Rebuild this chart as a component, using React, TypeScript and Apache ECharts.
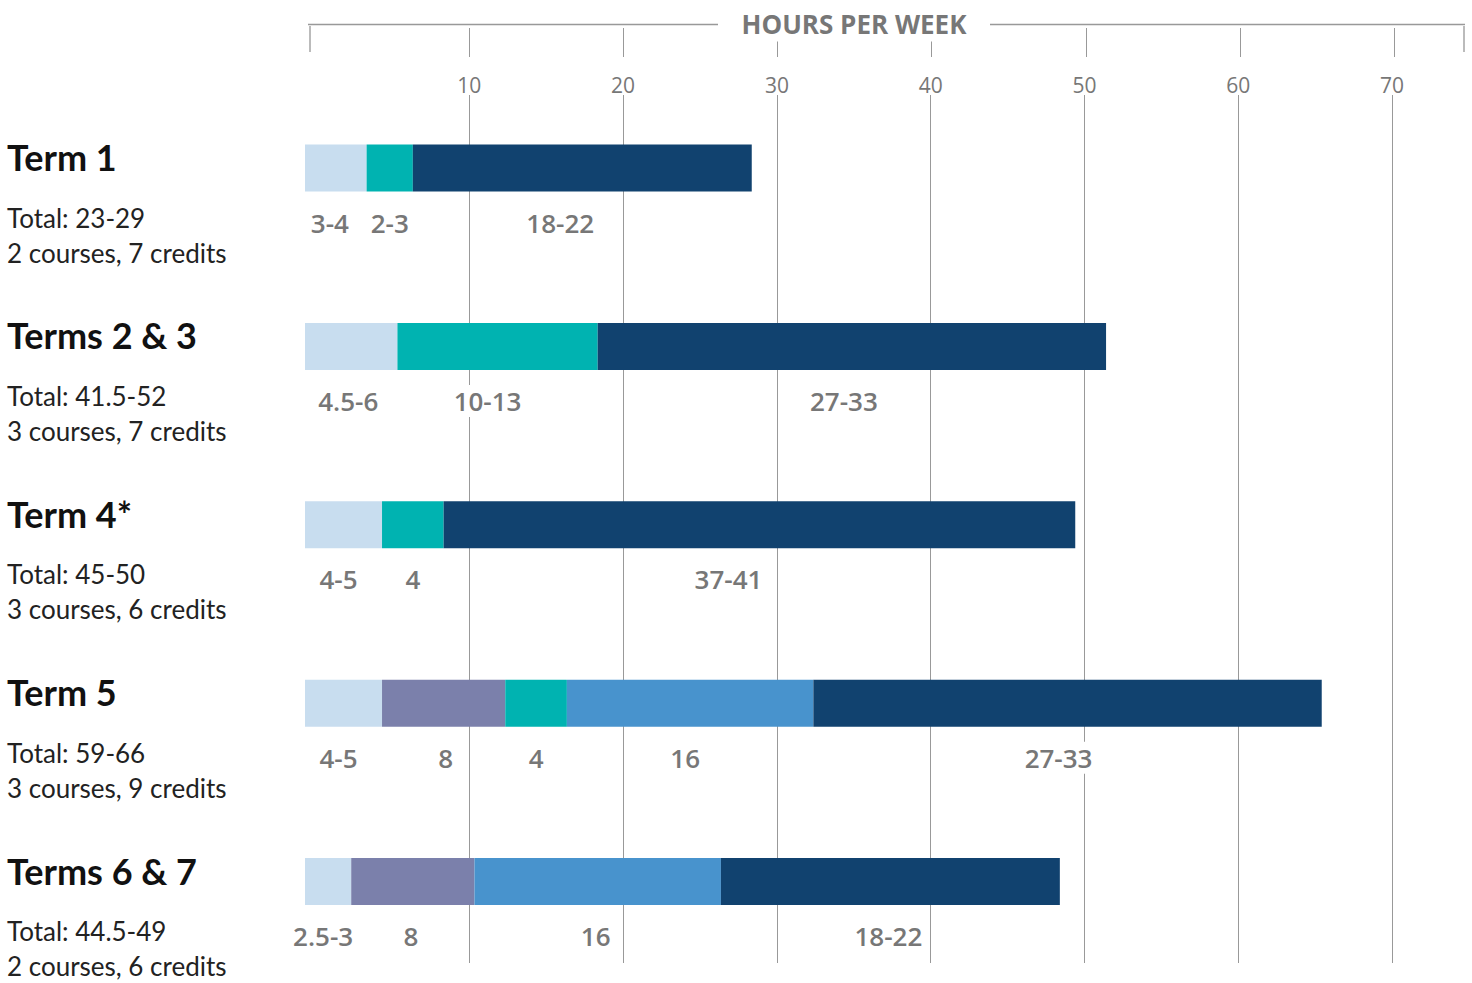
import React, { useEffect, useRef } from "react";
import * as echarts from "echarts";

const categories = ["Term 1", "Terms 2 & 3", "Term 4*", "Term 5", "Terms 6 & 7"];
const totals = ["Total: 23-29", "Total: 41.5-52", "Total: 45-50", "Total: 59-66", "Total: 44.5-49"];
const courses = ["2 courses, 7 credits", "3 courses, 7 credits", "3 courses, 6 credits", "3 courses, 9 credits", "2 courses, 6 credits"];

const lightValues = [4, 6, 5, 5, 3];
const purpleValues = [null, null, null, 8, 8];
const tealValues = [3, 13, 4, 4, null];
const blueValues = [null, null, null, 16, 16];
const darkValues = [22, 33, 41, 33, 22];

const lightLabels = ["3-4", "4.5-6", "4-5", "4-5", "2.5-3"];
const purpleLabels = ["", "", "", "8", "8"];
const tealLabels = ["2-3", "10-13", "4", "4", ""];
const blueLabels = ["", "", "", "16", "16"];
const darkLabels = ["18-22", "27-33", "37-41", "27-33", "18-22"];

// horizontal nudges of the value labels (pixels), as placed in the original
const lightShift = [-6, -3, -5, -5, -5];
const purpleShift = [0, 0, 0, 2, -2];
const tealShift = [0, -10, 0, 0, 0];
const blueShift = [0, 0, 0, -5, -2];
const darkShift = [-22, -8, -31, -9, -2];

const axisTitle = "HOURS PER WEEK";
const tickValues = [10, 20, 30, 40, 50, 60, 70];

export default function App() {
  const ref = useRef<HTMLDivElement>(null);

  useEffect(() => {
    if (!ref.current) return;
    const chart = echarts.init(ref.current, null, { renderer: "svg" });

    const mkSeries = (
      name: string,
      values: (number | null)[],
      labels: string[],
      shift: number[],
      color: string
    ) => ({
      name,
      type: "bar",
      stack: "hours",
      xAxisIndex: 2,
      yAxisIndex: 2,
      barWidth: 47,
      data: values.map((v, i) =>
        v == null ? "-" : { value: v, label: { offset: [shift[i], 0] } }
      ),
      itemStyle: { color },
      label: {
        show: true,
        position: "bottom",
        distance: 15,
        formatter: (p: any) => labels[p.dataIndex],
        color: "#777",
        fontSize: 26,
        fontWeight: 600,
        fontFamily: "Open Sans",
        backgroundColor: "#fff",
        padding: [3, 3, 3, 3],
      },
    });

    const gridAxis = (gridIndex: number, showLabel: boolean) => ({
      gridIndex,
      type: "value",
      position: "top",
      min: 0,
      max: 75,
      interval: 10,
      axisLine: { show: false },
      axisTick: { show: false },
      axisLabel: showLabel
        ? {
            show: true,
            margin: 0,
            color: "#777",
            fontSize: 21,
            fontFamily: "Open Sans",
            formatter: (v: number) => (tickValues.indexOf(v) >= 0 ? String(v) : ""),
          }
        : { show: false },
      splitLine: {
        show: true,
        lineStyle: {
          color: ["rgba(0,0,0,0)", "#999", "#999", "#999", "#999", "#999", "#999", "#999", "rgba(0,0,0,0)"],
          width: 1,
        },
      },
    });

    const option: any = {
      animation: false,
      backgroundColor: "#fff",
      grid: [
        { left: 315.5, right: 1.1, top: 28, bottom: 983 - 57 },
        { left: 315.5, right: 1.1, top: 95, bottom: 20 },
        { left: 305, right: 7, top: 78.8, bottom: 12.2 },
      ],
      xAxis: [
        gridAxis(0, false),
        gridAxis(1, true),
        {
          gridIndex: 2,
          type: "value",
          min: 0,
          max: 75.3,
          show: false,
        },
      ],
      yAxis: [
        { gridIndex: 0, type: "value", show: false },
        { gridIndex: 1, type: "value", show: false },
        {
          gridIndex: 2,
          type: "category",
          inverse: true,
          data: categories,
          axisLine: { show: false },
          axisTick: { show: false },
          splitLine: { show: false },
          axisLabel: {
            align: "left",
            verticalAlign: "middle",
            margin: 298,
            padding: [48, 0, 0, 0],
            formatter: (v: string, i: number) => `{t|${v}}\n{s|${totals[i]}}\n{s|${courses[i]}}`,
            rich: {
              t: {
                fontFamily: "Lato",
                fontWeight: "bold",
                fontSize: 36,
                color: "#111",
                lineHeight: 86,
                verticalAlign: "middle",
              },
              s: {
                fontFamily: "Lato",
                fontSize: 26,
                color: "#222",
                lineHeight: 35,
              },
            },
          },
        },
      ],
      graphic: [
        { type: "line", z: 50, shape: { x1: 308, y1: 24.5, x2: 718, y2: 24.5 }, style: { stroke: "#999", lineWidth: 1.5 } },
        { type: "line", z: 50, shape: { x1: 990, y1: 24.5, x2: 1465, y2: 24.5 }, style: { stroke: "#999", lineWidth: 1.5 } },
        { type: "line", z: 50, shape: { x1: 310, y1: 26, x2: 310, y2: 52 }, style: { stroke: "#bbb", lineWidth: 2 } },
        { type: "line", z: 50, shape: { x1: 1464, y1: 26, x2: 1464, y2: 52 }, style: { stroke: "#bbb", lineWidth: 2 } },
        {
          type: "text",
          z: 100,
          x: 854,
          y: 24,
          style: {
            text: axisTitle,
            align: "center",
            verticalAlign: "middle",
            fill: "#777",
            font: "bold 26px 'Open Sans'",
            backgroundColor: "#fff",
            padding: [4, 14, 5, 14],
          },
        },
      ],
      series: [
        mkSeries("light", lightValues, lightLabels, lightShift, "#c8ddef"),
        mkSeries("purple", purpleValues, purpleLabels, purpleShift, "#7b80ab"),
        mkSeries("teal", tealValues, tealLabels, tealShift, "#00b3b1"),
        mkSeries("blue", blueValues, blueLabels, blueShift, "#4893cd"),
        mkSeries("dark", darkValues, darkLabels, darkShift, "#11426f"),
      ],
    };

    chart.setOption(option);
    return () => chart.dispose();
  }, []);

  return <div ref={ref} style={{ position: "fixed", left: 0, top: 0, width: 1472, height: 983 }} />;
}
